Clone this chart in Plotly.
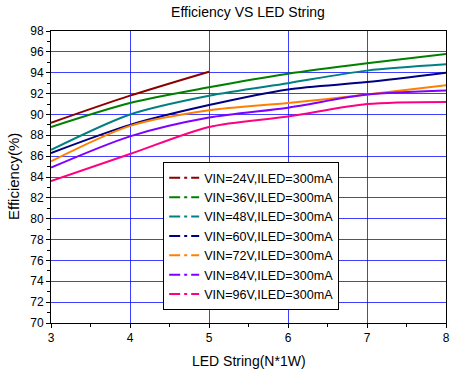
import plotly.graph_objects as go

led_string = [3, 4, 5, 6, 7, 8]
names = ["VIN=24V,ILED=300mA", "VIN=36V,ILED=300mA", "VIN=48V,ILED=300mA",
         "VIN=60V,ILED=300mA", "VIN=72V,ILED=300mA", "VIN=84V,ILED=300mA",
         "VIN=96V,ILED=300mA"]
eff_24v = [89.2, 91.8, 94.1]
eff_36v = [88.8, 91.1, 92.6, 93.9, 94.9, 95.8]
eff_48v = [86.6, 90.0, 91.8, 93.0, 94.2, 94.8]
eff_60v = [86.3, 89.0, 90.9, 92.4, 93.1, 94.0]
eff_72v = [85.5, 88.9, 90.4, 91.1, 91.9, 92.8]
eff_84v = [84.9, 87.9, 89.7, 90.65, 91.9, 92.3]
eff_96v = [83.6, 86.2, 88.8, 89.8, 91.0, 91.2]
series = [eff_24v, eff_36v, eff_48v, eff_60v, eff_72v, eff_84v, eff_96v]
colors = ["#8B0000", "#008000", "#008080", "#000080", "#FF8000", "#8000FF", "#FF0080"]

y_ticks = list(range(70, 99, 2))
x_ticks = [3, 4, 5, 6, 7, 8]

fig = go.Figure()
for name, ys, c in zip(names, series, colors):
    fig.add_trace(go.Scatter(x=led_string[:len(ys)], y=ys, mode="lines",
                             line=dict(color=c, width=2, shape="spline", smoothing=0.8),
                             showlegend=False, hoverinfo="skip"))
for name, c in zip(names, colors):
    fig.add_trace(go.Scatter(x=[None], y=[None], mode="lines", name=name,
                             line=dict(color=c, width=2, dash="11px,4px,3px,4px")))

font_family = "Liberation Sans, Arial, sans-serif"
fig.update_layout(
    width=459, height=373,
    margin=dict(l=51, r=13, t=31, b=50),
    plot_bgcolor="white", paper_bgcolor="white",
    font=dict(family=font_family, color="black", size=12),
    title=dict(text="Efficiency VS LED String", x=0.5403, xanchor="center",
               y=0.968, yanchor="middle", font=dict(size=14)),
    showlegend=True,
    legend=dict(x=0.284, y=0.551, xanchor="left", yanchor="top",
                bgcolor="white", bordercolor="black", borderwidth=1,
                font=dict(size=12.6), tracegroupgap=0, itemwidth=30),
    xaxis=dict(range=[3, 8], tickvals=x_ticks, showgrid=True, automargin=False,
               gridcolor="rgba(0,0,255,0.75)", gridwidth=1,
               showline=True, linecolor="black", linewidth=1, mirror=True,
               ticks="outside", ticklen=4, tickcolor="black",
               minor=dict(dtick=0.5, ticks="outside", ticklen=3, tickcolor="black", showgrid=False),
               tickfont=dict(size=12), zeroline=False),
    yaxis=dict(range=[70, 98], tickvals=y_ticks, showgrid=True, automargin=False,
               gridcolor="rgba(0,0,255,0.75)", gridwidth=1,
               showline=True, linecolor="black", linewidth=1, mirror=True,
               ticks="outside", ticklen=4, tickcolor="black",
               minor=dict(dtick=1, ticks="outside", ticklen=3, tickcolor="black", showgrid=False),
               tickfont=dict(size=12), zeroline=False),
    annotations=[
        dict(text="LED String(N*1W)", xref="paper", yref="paper", x=0.5, y=0,
             xanchor="center", yanchor="middle", yshift=-38, showarrow=False,
             font=dict(size=14)),
        dict(text="Efficiency(%)", xref="paper", yref="paper", x=0, y=0.5,
             xanchor="center", yanchor="middle", xshift=-38, textangle=-90,
             showarrow=False, font=dict(size=15)),
    ],
)
# remove the default 8px page margin so the figure fills the window exactly
fig.write_html("out.html", config={"displayModeBar": False},
               post_script="document.body.style.margin='0';")
